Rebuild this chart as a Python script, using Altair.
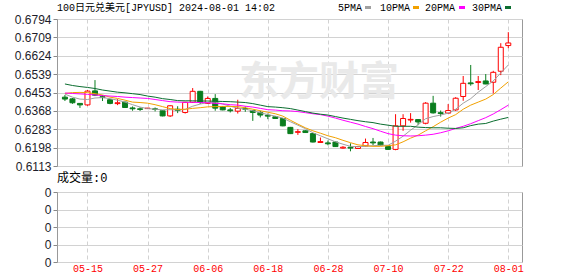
import altair as alt
import pandas as pd

# ---------------- data ----------------
dates = [d.strftime("%m-%d") for d in pd.bdate_range("2024-05-10", "2024-08-01")]

opens = [0.6432, 0.6424, 0.6403, 0.6396, 0.6461, 0.6434, 0.6420, 0.6402, 0.6409, 0.6382,
         0.6378, 0.6379, 0.6378, 0.6369, 0.6345, 0.6376, 0.6361, 0.6408, 0.6459, 0.6403,
         0.6426, 0.6387, 0.6373, 0.6367, 0.6379, 0.6370, 0.6361, 0.6348, 0.6341, 0.6333,
         0.6292, 0.6269, 0.6276, 0.6263, 0.6222, 0.6220, 0.6224, 0.6196, 0.6200, 0.6194,
         0.6206, 0.6224, 0.6224, 0.6203, 0.6190, 0.6299, 0.6326, 0.6328, 0.6311, 0.6404,
         0.6360, 0.6358, 0.6373, 0.6435, 0.6498, 0.6500, 0.6507, 0.6501, 0.6552, 0.6671]
closes = [0.6423, 0.6406, 0.6396, 0.6460, 0.6441, 0.6430, 0.6403, 0.6406, 0.6384, 0.6378,
          0.6375, 0.6381, 0.6375, 0.6345, 0.6392, 0.6371, 0.6408, 0.6459, 0.6408, 0.6426,
          0.6381, 0.6373, 0.6369, 0.6380, 0.6376, 0.6361, 0.6349, 0.6344, 0.6333, 0.6299,
          0.6263, 0.6272, 0.6268, 0.6224, 0.6226, 0.6216, 0.6203, 0.6200, 0.6196, 0.6203,
          0.6222, 0.6220, 0.6210, 0.6190, 0.6299, 0.6333, 0.6329, 0.6317, 0.6404, 0.6359,
          0.6356, 0.6370, 0.6427, 0.6496, 0.6494, 0.6504, 0.6493, 0.6547, 0.6663, 0.6683]
highs = [0.6442, 0.6428, 0.6404, 0.6465, 0.6511, 0.6442, 0.6422, 0.6423, 0.6411, 0.6389,
         0.6385, 0.6382, 0.6384, 0.6371, 0.6394, 0.6390, 0.6410, 0.6474, 0.6461, 0.6435,
         0.6446, 0.6389, 0.6382, 0.6420, 0.6389, 0.6372, 0.6369, 0.6356, 0.6343, 0.6336,
         0.6294, 0.6284, 0.6278, 0.6266, 0.6245, 0.6231, 0.6226, 0.6205, 0.6218, 0.6205,
         0.6240, 0.6243, 0.6226, 0.6205, 0.6353, 0.6353, 0.6358, 0.6330, 0.6409, 0.6438,
         0.6370, 0.6400, 0.6432, 0.6530, 0.6581, 0.6530, 0.6539, 0.6554, 0.6682, 0.6733]
lows = [0.6414, 0.6401, 0.6382, 0.6392, 0.6437, 0.6414, 0.6399, 0.6395, 0.6382, 0.6369,
        0.6368, 0.6378, 0.6366, 0.6343, 0.6340, 0.6358, 0.6356, 0.6406, 0.6400, 0.6401,
        0.6369, 0.6371, 0.6361, 0.6356, 0.6364, 0.6322, 0.6338, 0.6330, 0.6331, 0.6297,
        0.6261, 0.6257, 0.6266, 0.6222, 0.6221, 0.6209, 0.6201, 0.6193, 0.6181, 0.6192,
        0.6204, 0.6210, 0.6208, 0.6188, 0.6186, 0.6276, 0.6314, 0.6302, 0.6306, 0.6356,
        0.6342, 0.6356, 0.6368, 0.6415, 0.6485, 0.6465, 0.6492, 0.6449, 0.6534, 0.6659]

ma5 = [0.6446, 0.6432, 0.6423, 0.6421, 0.6428, 0.6430, 0.6425, 0.6418, 0.6409, 0.6397,
       0.6386, 0.6379, 0.6376, 0.6373, 0.6374, 0.6373, 0.6375, 0.6390, 0.6400, 0.6407,
       0.6409, 0.6400, 0.6390, 0.6381, 0.6376, 0.6369, 0.6360, 0.6351, 0.6344, 0.6335,
       0.6318, 0.6302, 0.6286, 0.6267, 0.6253, 0.6239, 0.6225, 0.6214, 0.6204, 0.6202,
       0.6204, 0.6207, 0.6209, 0.6209, 0.6228, 0.6251, 0.6279, 0.6304, 0.6332, 0.6342,
       0.6349, 0.6358, 0.6376, 0.6404, 0.6425, 0.6455, 0.6481, 0.6507, 0.6544, 0.6581]
ma10 = [0.6449, 0.6453, 0.6454, 0.6453, 0.6448, 0.6442, 0.6432, 0.6426, 0.6418, 0.6409,
        0.6407, 0.6404, 0.6397, 0.6388, 0.6379, 0.6375, 0.6376, 0.6380, 0.6383, 0.6387,
        0.6388, 0.6389, 0.6389, 0.6388, 0.6383, 0.6376, 0.6369, 0.6362, 0.6355, 0.6344,
        0.6325, 0.6307, 0.6290, 0.6276, 0.6265, 0.6253, 0.6244, 0.6232, 0.6221, 0.6211,
        0.6207, 0.6204, 0.6204, 0.6207, 0.6211, 0.6225, 0.6242, 0.6256, 0.6276, 0.6295,
        0.6316, 0.6335, 0.6351, 0.6376, 0.6395, 0.6409, 0.6423, 0.6444, 0.6474, 0.6503]
ma20 = [0.6451, 0.6449, 0.6447, 0.6445, 0.6442, 0.6439, 0.6437, 0.6435, 0.6432, 0.6430,
        0.6428, 0.6426, 0.6421, 0.6416, 0.6411, 0.6409, 0.6408, 0.6408, 0.6407, 0.6406,
        0.6403, 0.6401, 0.6397, 0.6395, 0.6390, 0.6386, 0.6380, 0.6374, 0.6372, 0.6369,
        0.6368, 0.6365, 0.6360, 0.6355, 0.6351, 0.6344, 0.6335, 0.6325, 0.6316, 0.6307,
        0.6296, 0.6286, 0.6274, 0.6263, 0.6256, 0.6253, 0.6252, 0.6253, 0.6256, 0.6260,
        0.6267, 0.6276, 0.6287, 0.6297, 0.6309, 0.6323, 0.6337, 0.6354, 0.6374, 0.6395]
ma30 = [0.6493, 0.6486, 0.6481, 0.6477, 0.6472, 0.6465, 0.6460, 0.6455, 0.6452, 0.6448,
        0.6444, 0.6437, 0.6432, 0.6425, 0.6421, 0.6416, 0.6415, 0.6415, 0.6414, 0.6414,
        0.6413, 0.6412, 0.6411, 0.6409, 0.6407, 0.6402, 0.6395, 0.6388, 0.6386, 0.6383,
        0.6379, 0.6372, 0.6365, 0.6358, 0.6353, 0.6349, 0.6342, 0.6335, 0.6329, 0.6323,
        0.6318, 0.6314, 0.6307, 0.6302, 0.6297, 0.6297, 0.6297, 0.6293, 0.6291, 0.6290,
        0.6290, 0.6288, 0.6287, 0.6290, 0.6300, 0.6307, 0.6310, 0.6321, 0.6330, 0.6338]
volumes = [0] * len(dates)

y_ticks = [0.6113, 0.6198, 0.6283, 0.6368, 0.6453, 0.6539, 0.6624, 0.6709, 0.6794]
tick_idx = [3, 11, 19, 27, 35, 43, 51, 59]
ma_names = ["5PMA", "10PMA", "20PMA", "30PMA"]
title_text = "100日元兑美元[JPYUSD] 2024-08-01 14:02"
vol_title = "成交量:0"
watermark = "东方财富"

# ---------------- styling ----------------
RED = "#ff0000"
GREEN = "#0a7d1e"
ma_colors = ["#a0a0a0", "#f2a100", "#ff00ff", "#0b6e30"]
MONO = "Liberation Mono, Noto Sans CJK SC"
GRID = "#d2d2d2"
W, H1, H2 = 465, 147, 70

n = len(dates)
df = pd.DataFrame({"idx": list(range(n)), "date": dates, "open": opens,
                   "high": highs, "low": lows, "close": closes})
df["up"] = df["close"] >= df["open"]
ma_df = pd.concat([pd.DataFrame({"idx": list(range(n)), "val": v, "ma": name})
                   for name, v in zip(ma_names, [ma5, ma10, ma20, ma30])])
vol_df = pd.DataFrame({"idx": list(range(n)), "vol": volumes})
one = pd.DataFrame({"k": [0]})

xs = alt.Scale(domain=[-0.39, 60.16], nice=False, zero=False)
ys = alt.Scale(domain=[0.6113, 0.6794], nice=False, zero=False)
x_top_axis = alt.Axis(values=tick_idx, labels=False, ticks=False, tickSize=0, domain=False,
                      grid=True, gridDash=[4, 3], gridColor=GRID, title=None)
y_axis = alt.Axis(values=y_ticks, format=".4f", title=None, grid=True, gridColor=GRID,
                  domain=False, tickSize=4, tickColor="#888888",
                  labelFont="Liberation Sans", labelFontSize=12, labelColor="#1d1d2b",
                  labelPadding=2)

label_expr = "[" + ",".join("'%s'" % d for d in dates) + "][datum.value]"

wm = alt.Chart(one).mark_text(text=watermark, font="Noto Sans CJK SC", fontSize=40,
                              fontWeight="bold", color="#e9e9e9", align="center",
                              baseline="middle").encode(x=alt.value(262), y=alt.value(64))

wicks = alt.Chart(df).mark_rule(strokeWidth=1).encode(
    x=alt.X("idx:Q", scale=xs, axis=x_top_axis),
    y=alt.Y("low:Q", scale=ys, axis=y_axis),
    y2="high:Q",
    color=alt.condition(alt.datum.up, alt.value(RED), alt.value(GREEN)))

bodies = alt.Chart(df).mark_bar(size=5, strokeWidth=1).encode(
    x=alt.X("idx:Q", scale=xs, axis=x_top_axis),
    y=alt.Y("open:Q", scale=ys, axis=y_axis),
    y2="close:Q",
    fill=alt.condition(alt.datum.up, alt.value("white"), alt.value(GREEN)),
    stroke=alt.condition(alt.datum.up, alt.value(RED), alt.value(GREEN)))

lines = alt.Chart(ma_df).mark_line(strokeWidth=1).encode(
    x=alt.X("idx:Q", scale=xs, axis=x_top_axis),
    y=alt.Y("val:Q", scale=ys, axis=y_axis),
    color=alt.Color("ma:N", scale=alt.Scale(domain=ma_names, range=ma_colors), legend=None))

title = alt.Chart(one).mark_text(text=title_text, font=MONO, fontSize=10, color="black",
                                 align="left", baseline="middle").encode(
    x=alt.value(0), y=alt.value(-11))

leg_text_x = [281, 323, 368, 415]
leg_sw_x = [308, 356, 402, 448]
legend_layers = []
for name, col, tx, sx in zip(ma_names, ma_colors, leg_text_x, leg_sw_x):
    legend_layers.append(alt.Chart(one).mark_text(text=name, font=MONO, fontSize=10,
                                                  color="black", align="left",
                                                  baseline="middle").encode(
        x=alt.value(tx), y=alt.value(-11)))
    legend_layers.append(alt.Chart(one).mark_rect(color=col).encode(
        x=alt.value(sx), x2=alt.value(sx + 6), y=alt.value(-13), y2=alt.value(-10)))

top = alt.layer(wm, wicks, bodies, lines, title, *legend_layers).properties(width=W, height=H1)

x_bot_axis = alt.Axis(values=tick_idx, labelExpr=label_expr, labelColor=RED, labelFont=MONO,
                      labelFontSize=10, ticks=False, tickSize=0, domain=False, grid=True,
                      gridDash=[4, 3], gridColor=GRID, labelPadding=1, title=None,
                      labelOverlap=False)
y_bot_axis = alt.Axis(values=[0, 1, 2, 3, 4], labelExpr="'0'", title=None, grid=True,
                      gridColor=GRID, domain=False, tickSize=4, tickColor="#888888",
                      labelFont="Liberation Sans", labelFontSize=12, labelColor="#1d1d2b",
                      labelPadding=2)

bottom = alt.Chart(vol_df).mark_bar(size=5, opacity=0).encode(
    x=alt.X("idx:Q", scale=xs, axis=x_bot_axis),
    y=alt.Y("vol:Q", scale=alt.Scale(domain=[0, 4], nice=False), axis=y_bot_axis)
).properties(width=W, height=H2,
             title=alt.TitleParams(vol_title, anchor="start", frame="group", font=MONO,
                                   fontSize=12, fontWeight="normal", color="black", offset=1))

chart = alt.vconcat(top, bottom, spacing=-2).properties(
    padding={"left": 13, "top": 2, "right": 5, "bottom": 2},
    background="white"
).configure_view(stroke="#999999", strokeWidth=1)

chart.save("out.html", embed_options={"renderer": "svg", "actions": False})
